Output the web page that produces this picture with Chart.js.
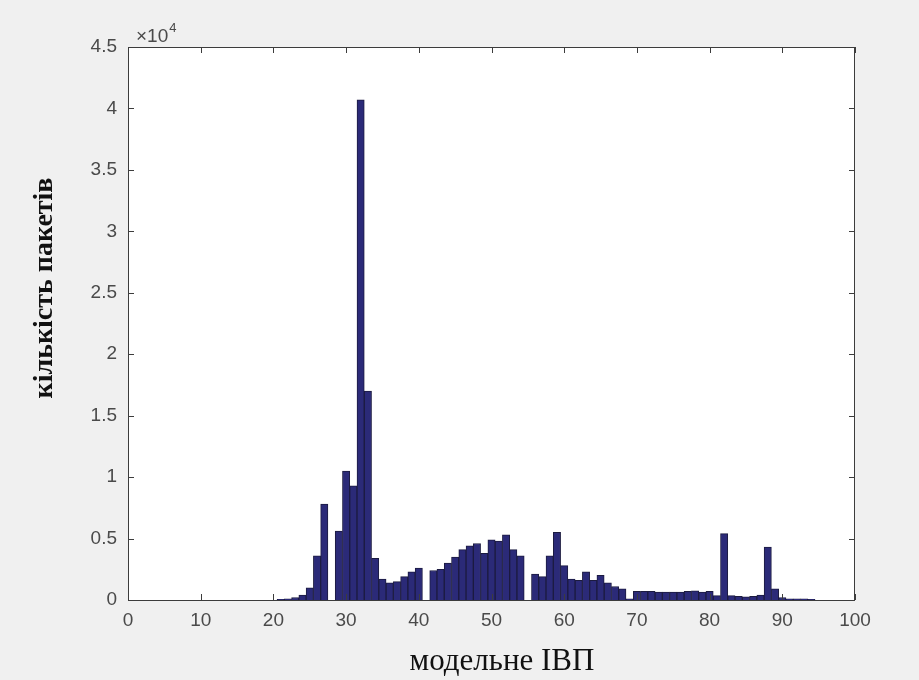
<!DOCTYPE html>
<html>
<head>
<meta charset="utf-8">
<script src="https://cdn.jsdelivr.net/npm/chart.js@4.4.1/dist/chart.umd.min.js"></script>
<style>
  html, body { margin: 0; padding: 0; background: #f0f0f0; }
  #wrap { width: 919px; height: 680px; position: relative; }
</style>
</head>
<body>
<div id="wrap"><canvas id="chart"></canvas></div>
<script>
// bin centres (модельне ІВП) and packet counts per bin
const binCenters = [
  21, 22, 23, 24, 25, 26, 27, 28, 29, 30,
  31, 32, 33, 34, 35, 36, 37, 38, 39, 40,
  41, 42, 43, 44, 45, 46, 47, 48, 49, 50,
  51, 52, 53, 54, 55, 56, 57, 58, 59, 60,
  61, 62, 63, 64, 65, 66, 67, 68, 69, 70,
  71, 72, 73, 74, 75, 76, 77, 78, 79, 80,
  81, 82, 83, 84, 85, 86, 87, 88, 89, 90,
  91, 92, 93, 94
];
const packetCounts = [
  50, 100, 200, 400, 1000, 3600, 7800, 0, 5600, 10500,
  9300, 40700, 17000, 3400, 1700, 1400, 1500, 1900, 2300, 2600,
  0, 2400, 2500, 3000, 3500, 4100, 4400, 4600, 3800, 4900,
  4800, 5300, 4100, 3600, 0, 2100, 1900, 3600, 5500, 2800,
  1700, 1600, 2300, 1600, 2000, 1400, 1100, 900, 100, 700,
  700, 700, 650, 650, 650, 650, 700, 750, 650, 700,
  350, 5400, 350, 300, 250, 300, 400, 4300, 900, 200,
  100, 100, 100, 50
];
const xTicks = [0, 10, 20, 30, 40, 50, 60, 70, 80, 90, 100];
const yTicks = [0, 5000, 10000, 15000, 20000, 25000, 30000, 35000, 40000, 45000];
const yExponent = 4;
const xTitle = 'модельне ІВП';
const yTitle = 'кількість пакетів';

const tickFont = { family: 'Liberation Sans, Arial, sans-serif', size: 19 };
const tickColor = '#4a4a4a';

// white axes box, inward ticks on all four sides, exponent and titles
const matlabAxes = {
  id: 'matlabAxes',
  beforeDraw(chart) {
    const { ctx, chartArea: a } = chart;
    ctx.save();
    ctx.fillStyle = '#ffffff';
    ctx.fillRect(a.left, a.top, a.right - a.left, a.bottom - a.top);
    ctx.restore();
  },
  afterDraw(chart) {
    const { ctx, chartArea: a, scales } = chart;
    const len = 6;
    ctx.save();
    ctx.strokeStyle = '#3c3c3c';
    ctx.lineWidth = 1;
    ctx.strokeRect(a.left + 0.5, a.top + 0.5, a.right - a.left - 1, a.bottom - a.top);
    ctx.beginPath();
    xTicks.forEach(v => {
      const px = Math.round(scales.x.getPixelForValue(v)) + 0.5;
      ctx.moveTo(px, a.bottom); ctx.lineTo(px, a.bottom - len);
      ctx.moveTo(px, a.top); ctx.lineTo(px, a.top + len);
    });
    yTicks.forEach(v => {
      const py = Math.round(scales.y.getPixelForValue(v)) + 0.5;
      ctx.moveTo(a.left, py); ctx.lineTo(a.left + len, py);
      ctx.moveTo(a.right, py); ctx.lineTo(a.right - len, py);
    });
    ctx.stroke();

    // ×10^4
    ctx.fillStyle = tickColor;
    ctx.textBaseline = 'alphabetic';
    ctx.textAlign = 'left';
    ctx.font = '19px Liberation Sans, Arial, sans-serif';
    ctx.fillText('\u00d710', a.left + 8, a.top - 5);
    const w = ctx.measureText('\u00d710').width;
    ctx.font = '13px Liberation Sans, Arial, sans-serif';
    ctx.fillText(String(yExponent), a.left + 8 + w + 1, a.top - 15);

    // axis titles
    ctx.fillStyle = '#111111';
    ctx.textAlign = 'center';
    ctx.textBaseline = 'middle';
    ctx.font = '31px Liberation Serif, Times New Roman, serif';
    ctx.fillText(xTitle, 502, 662);
    ctx.translate(45, 288);
    ctx.rotate(-Math.PI / 2);
    ctx.font = 'bold 28px Liberation Serif, Times New Roman, serif';
    ctx.fillText(yTitle, 0, 0);
    ctx.restore();
  }
};

new Chart(document.getElementById('chart'), {
  type: 'bar',
  data: {
    datasets: [{
      data: binCenters.map((x, i) => ({ x: x, y: packetCounts[i] })),
      backgroundColor: '#2b2a78',
      borderColor: '#1c1b40',
      borderWidth: 1,
      barPercentage: 1,
      categoryPercentage: 1
    }]
  },
  options: {
    responsive: true,
    maintainAspectRatio: false,
    animation: false,
    layout: { padding: { left: 0, right: 64, top: 47, bottom: 0 } },
    plugins: {
      legend: { display: false },
      tooltip: { enabled: false }
    },
    scales: {
      x: {
        type: 'linear',
        min: 0,
        max: 100,
        offset: false,
        grid: { display: false, drawTicks: false, offset: false },
        border: { display: false },
        afterBuildTicks: s => { s.ticks = xTicks.map(v => ({ value: v })); },
        afterFit: s => { s.height = 80; },
        ticks: { color: tickColor, font: tickFont, padding: 9, maxRotation: 0 }
      },
      y: {
        min: 0,
        max: 45000,
        grid: { display: false, drawTicks: false },
        border: { display: false },
        afterBuildTicks: s => { s.ticks = yTicks.map(v => ({ value: v })); },
        afterFit: s => { s.width = 128; },
        ticks: {
          color: tickColor,
          font: tickFont,
          padding: 11,
          callback: v => String(v / Math.pow(10, yExponent))
        }
      }
    }
  },
  plugins: [matlabAxes]
});
</script>
</body>
</html>
